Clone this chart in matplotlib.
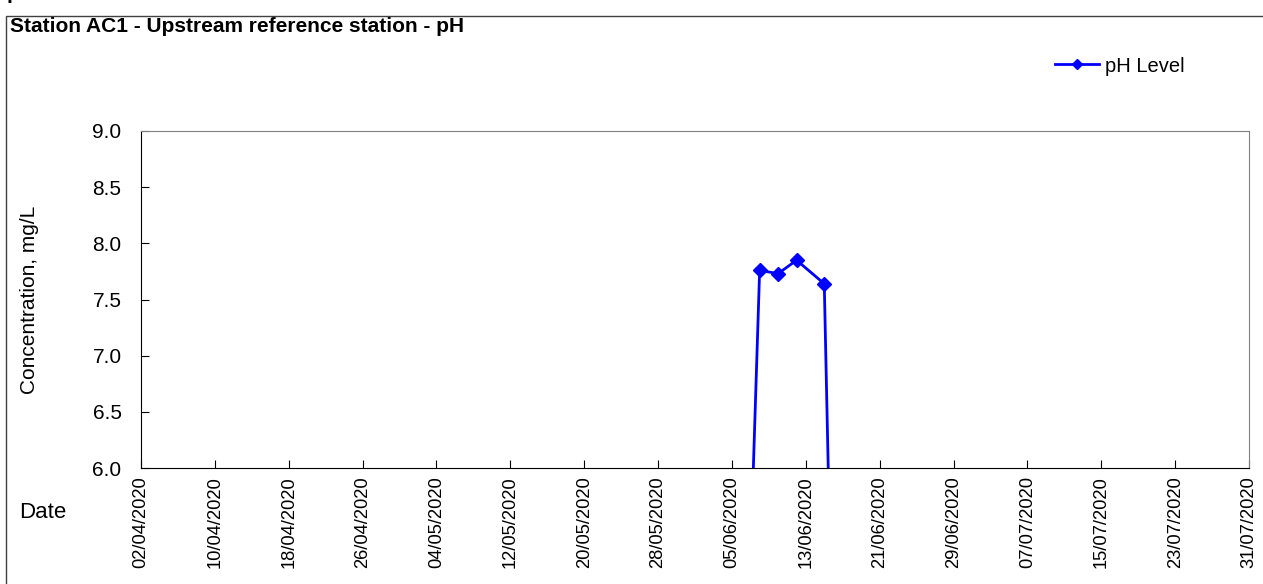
import numpy as np
import matplotlib
matplotlib.use("Agg")
import matplotlib.pyplot as plt
import matplotlib.dates as mdates
from matplotlib.patches import Rectangle
from datetime import datetime, timedelta

plt.rcParams['font.family'] = ['Liberation Sans', 'DejaVu Sans']

# sample dates and pH values (zeros are blank readings plotted as 0)
dates = ["05/06/2020", "08/06/2020", "10/06/2020", "12/06/2020", "15/06/2020", "17/06/2020"]
ph_level = [0.0, 7.76, 7.73, 7.85, 7.64, 0.0]

series_label = "pH Level"
title = "Station AC1 - Upstream reference station - pH"
y_label = "Concentration, mg/L"
y_ticks = [6.0, 6.5, 7.0, 7.5, 8.0, 8.5, 9.0]
x_start = "02/04/2020"
x_end = "31/07/2020"
tick_step_days = 8

W, H = 1263, 584
fig = plt.figure(figsize=(W / 100, H / 100), dpi=100)

# outer chart frame
fig.add_artist(Rectangle((6 / W, -0.1), 1.2, (H - 16) / H + 0.1, transform=fig.transFigure,
                         fill=False, edgecolor="#404040", linewidth=1.0))
# heading above the frame, cut off by the top edge
fig.text(7 / W, (H + 1) / H, "pH", fontsize=15, fontweight="bold", va="baseline", ha="left")

ax = fig.add_axes([141 / W, (H - 468) / H, (1249 - 141) / W, (468 - 131) / H])

x = [datetime.strptime(d, "%d/%m/%Y") for d in dates]
ax.plot(x, ph_level, color="#0000ff", linewidth=2, marker="D", markersize=7, label=series_label)

t0 = datetime.strptime(x_start, "%d/%m/%Y")
t1 = datetime.strptime(x_end, "%d/%m/%Y")
ticks = []
t = t0
while t <= t1:
    ticks.append(t)
    t += timedelta(days=tick_step_days)
ax.set_xlim(t0, t1)
ax.set_xticks(ticks)
ax.xaxis.set_major_formatter(mdates.DateFormatter("%d/%m/%Y"))
ax.tick_params(axis="x", direction="in", length=6, labelsize=13.2, rotation=90, pad=6)

ax.set_ylim(6.0, 9.0)
ax.set_yticks(y_ticks)
ax.set_yticklabels(["%.1f" % v for v in y_ticks])
ax.tick_params(axis="y", direction="in", length=6, labelsize=15, pad=14)

for s in ["top", "right"]:
    ax.spines[s].set_color("#808080")
for s in ["left", "bottom"]:
    ax.spines[s].set_color("black")

fig.text(30 / W, (H - 300) / H, y_label, rotation=90, fontsize=15, ha="center", va="center")
fig.text(43 / W, (H - 513) / H, "Date", fontsize=16, ha="center", va="center")
fig.text(10 / W, (H - 26) / H, title, fontsize=15, fontweight="bold", ha="left", va="center")

fig.legend(loc="center left", bbox_to_anchor=(1055 / W, (H - 66) / H), frameon=False,
           fontsize=14.5, handlelength=2.2, handletextpad=0.3, markerscale=0.8, borderpad=0, borderaxespad=0)

fig.savefig("out.png", dpi=100)
